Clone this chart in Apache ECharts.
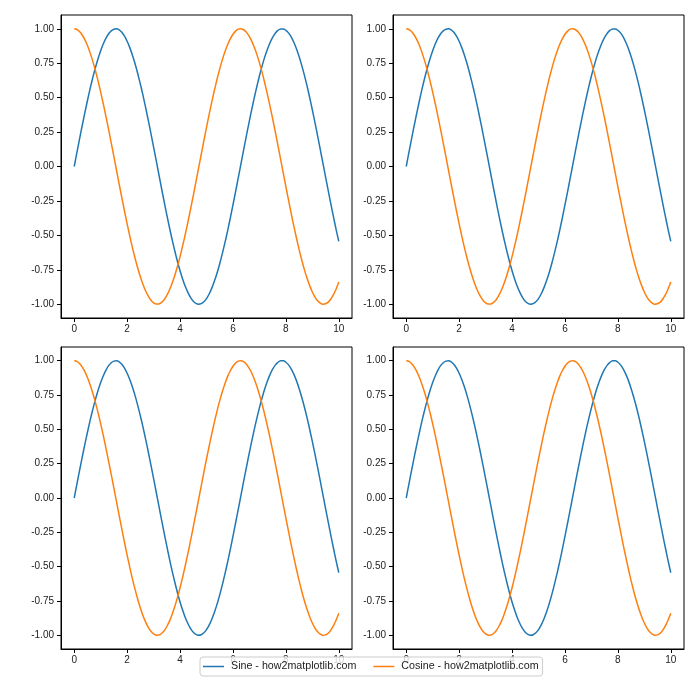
<!DOCTYPE html>
<html><head><meta charset="utf-8">
<script src="https://cdn.jsdelivr.net/npm/echarts@6/dist/echarts.min.js"></script>
<style>html,body{margin:0;padding:0;background:#fff}#c{width:700px;height:700px}</style>
</head><body><div id="c"></div>
<script>
const xValues = [0,0.1,0.2,0.3,0.4,0.5,0.6,0.7,0.8,0.9,1,1.1,1.2,1.3,1.4,1.5,1.6,1.7,1.8,1.9,2,2.1,2.2,2.3,2.4,2.5,2.6,2.7,2.8,2.9,3,3.1,3.2,3.3,3.4,3.5,3.6,3.7,3.8,3.9,4,4.1,4.2,4.3,4.4,4.5,4.6,4.7,4.8,4.9,5,5.1,5.2,5.3,5.4,5.5,5.6,5.7,5.8,5.9,6,6.1,6.2,6.3,6.4,6.5,6.6,6.7,6.8,6.9,7,7.1,7.2,7.3,7.4,7.5,7.6,7.7,7.8,7.9,8,8.1,8.2,8.3,8.4,8.5,8.6,8.7,8.8,8.9,9,9.1,9.2,9.3,9.4,9.5,9.6,9.7,9.8,9.9,10];
const sineValues = [0.000,0.100,0.199,0.296,0.389,0.479,0.565,0.644,0.717,0.783,0.841,0.891,0.932,0.964,0.985,0.997,1.000,0.992,0.974,0.946,0.909,0.863,0.808,0.746,0.675,0.598,0.516,0.427,0.335,0.239,0.141,0.042,-0.058,-0.158,-0.256,-0.351,-0.443,-0.530,-0.612,-0.688,-0.757,-0.818,-0.872,-0.916,-0.952,-0.978,-0.994,-1.000,-0.996,-0.982,-0.959,-0.926,-0.883,-0.832,-0.773,-0.706,-0.631,-0.551,-0.465,-0.374,-0.279,-0.182,-0.083,0.017,0.117,0.215,0.312,0.405,0.494,0.578,0.657,0.729,0.794,0.850,0.899,0.938,0.968,0.988,0.999,0.999,0.989,0.970,0.941,0.902,0.855,0.798,0.734,0.663,0.585,0.501,0.412,0.319,0.223,0.124,0.025,-0.075,-0.174,-0.272,-0.366,-0.458,-0.544];
const cosineValues = [1.000,0.995,0.980,0.955,0.921,0.878,0.825,0.765,0.697,0.622,0.540,0.454,0.362,0.267,0.170,0.071,-0.029,-0.129,-0.227,-0.323,-0.416,-0.505,-0.589,-0.666,-0.737,-0.801,-0.857,-0.904,-0.942,-0.971,-0.990,-0.999,-0.998,-0.987,-0.967,-0.936,-0.897,-0.848,-0.791,-0.726,-0.654,-0.575,-0.490,-0.401,-0.307,-0.211,-0.112,-0.012,0.087,0.187,0.284,0.378,0.469,0.554,0.635,0.709,0.776,0.835,0.886,0.927,0.960,0.983,0.997,1.000,0.993,0.977,0.950,0.914,0.869,0.816,0.754,0.685,0.608,0.526,0.439,0.347,0.252,0.154,0.054,-0.046,-0.146,-0.243,-0.339,-0.431,-0.519,-0.602,-0.679,-0.749,-0.811,-0.865,-0.911,-0.948,-0.975,-0.992,-1.000,-0.997,-0.985,-0.962,-0.930,-0.889,-0.839];
const xTicks = [0,2,4,6,8,10];
const yTicks = [-1,-0.75,-0.5,-0.25,0,0.25,0.5,0.75,1];
const seriesNames = ['Sine - how2matplotlib.com','Cosine - how2matplotlib.com'];
const colors = ['#1f77b4','#ff7f0e'];

const font = 'Liberation Sans';
const grids = [
  {left:61, top:15, width:291, height:303},
  {left:393, top:15, width:291, height:303},
  {left:61, top:347, width:291, height:302},
  {left:393, top:347, width:291, height:302}
];
const xAxes = [], yAxes = [], series = [];
grids.forEach((g,i)=>{
  g.show = true; g.borderColor = '#000'; g.borderWidth = 1; g.backgroundColor = '#fff';
  xAxes.push({type:'value', gridIndex:i, min:-0.5, max:10.5,
    splitLine:{show:false},
    axisLine:{show:true, onZero:false, lineStyle:{color:'#000', width:1}},
    axisTick:{show:true, length:4, customValues:xTicks, lineStyle:{color:'#000'}},
    axisLabel:{customValues:xTicks, color:'#222', fontFamily:font, fontSize:10, margin:6}
  });
  yAxes.push({type:'value', gridIndex:i, min:-1.1, max:1.1,
    splitLine:{show:false},
    axisLine:{show:true, onZero:false, lineStyle:{color:'#000', width:1}},
    axisTick:{show:true, length:4, customValues:yTicks, lineStyle:{color:'#000'}},
    axisLabel:{customValues:yTicks, color:'#222', fontFamily:font, fontSize:10, margin:7,
      formatter:v=>v.toFixed(2)}
  });
  [sineValues, cosineValues].forEach((vals,k)=>{
    series.push({type:'line', name:seriesNames[k], xAxisIndex:i, yAxisIndex:i,
      data:xValues.map((x,j)=>[x, vals[j]]), smooth:0.3, symbol:'none',
      lineStyle:{color:colors[k], width:1.5}, itemStyle:{color:colors[k]}, animation:false, z:3});
  });
});

const chart = echarts.init(document.getElementById('c'), null, {renderer:'canvas'});
chart.setOption({
  animation:false,
  grid:grids, xAxis:xAxes, yAxis:yAxes, series:series,
  legend:{data:seriesNames, left:200, top:657, orient:'horizontal', icon:'rect',
    backgroundColor:'rgba(255,255,255,0.8)', borderColor:'#cccccc', borderWidth:1, borderRadius:3,
    padding:[4,4,4,3], itemGap:17, itemWidth:21, itemHeight:1.5,
    textStyle:{fontFamily:font, fontSize:10.7, color:'#222', padding:[0,0,0,2]}, z:10}
});
</script></body></html>
